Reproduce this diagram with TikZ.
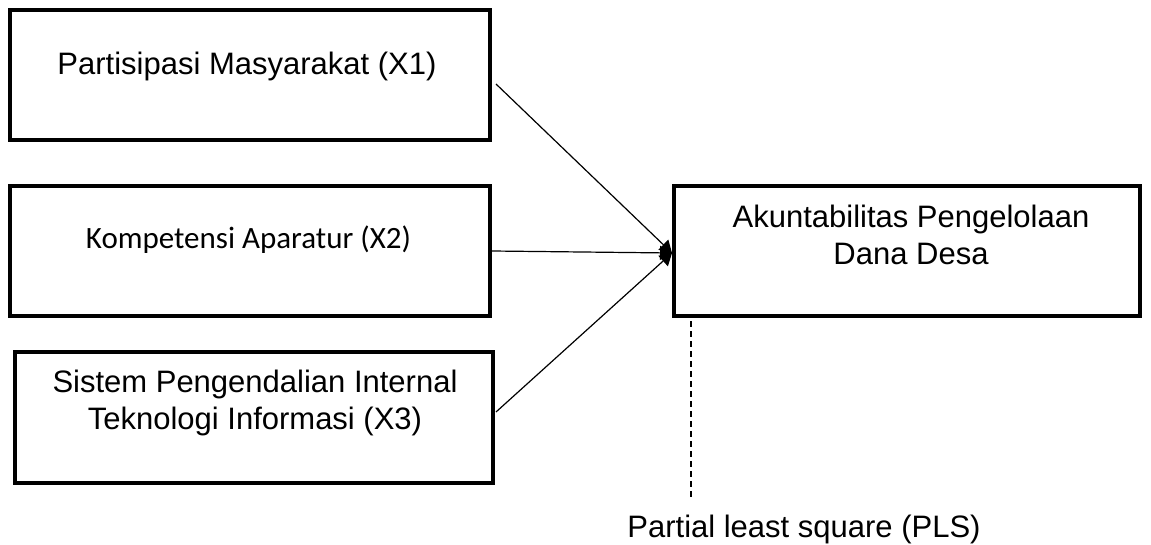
\documentclass[tikz,border=0pt]{standalone}
\usepackage{fontspec}
\setmainfont{Liberation Sans}
\newfontfamily\calibrifont{Carlito}
\usetikzlibrary{arrows.meta}
\begin{document}
\begin{tikzpicture}[x=1pt,y=-1pt,
  varbox/.style={draw=black,line width=3.8pt,inner sep=0pt},
  boxtext/.style={font=\fontsize{31}{37.5}\selectfont,align=center,inner sep=0pt},
  link/.style={line width=1.2pt,-{Triangle[length=12pt,width=14pt]}},
  plsline/.style={line width=1.2pt,dash pattern=on 6pt off 4pt}]
\useasboundingbox (0,0) rectangle (1151,545);
% boxes
\node[varbox,minimum width=480pt,minimum height=130pt] (x1) at (250,75) {};
\node[varbox,minimum width=480pt,minimum height=130pt] (x2) at (250,251) {};
\node[varbox,minimum width=478pt,minimum height=131pt] (x3) at (254,417.5) {};
\node[varbox,minimum width=466pt,minimum height=130pt] (y) at (907,251) {};
% texts
\node[boxtext] (t1) at (247,66) {Partisipasi Masyarakat (X1)};
\node[boxtext,font=\calibrifont\fontsize{31}{37}\selectfont] (t2) at (248.5,240) {Kompetensi Aparatur (X2)};
\node[boxtext] (t3) at (255,403) {Sistem Pengendalian Internal\\Teknologi Informasi (X3)};
\node[boxtext] (ty) at (911,235) {Akuntabilitas Pengelolaan\\Dana Desa};
\node[boxtext] (pls) at (804,529) {Partial least square (PLS)};
% connectors
\coordinate (tip) at (672,253);
\coordinate (s1) at (496,84);
\coordinate (s3) at (496,412);
\draw[link] (s1) -- (tip);
\draw[link] (x2.east) -- (tip);
\draw[link] (s3) -- (tip);
\coordinate (d1) at (691,321);
\coordinate (d2) at (691,500);
\draw[plsline] (d1) -- (d2);
\end{tikzpicture}
\end{document}
